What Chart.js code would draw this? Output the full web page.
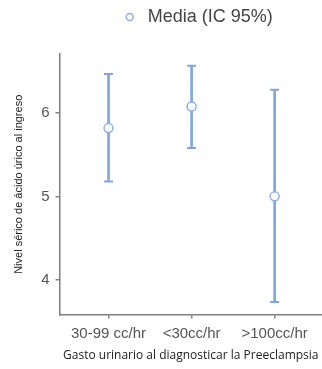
<!DOCTYPE html>
<html lang="es">
<head>
  <meta charset="UTF-8" />
  <title>Ácido úrico por gasto urinario</title>
  <script src="https://cdn.jsdelivr.net/npm/chart.js"></script>
  <style>
    body { margin: 0; background: #fff; }
    #wrap { width: 322px; height: 369px; }
  </style>
</head>
<body>
  <div id="wrap"><canvas id="ciChart"></canvas></div>

  <script>
    // data
    const categories = ['30-99 cc/hr', '<30cc/hr', '>100cc/hr'];
    const means = [5.82, 6.08, 5.0];
    const lower = [5.18, 5.58, 3.73];
    const upper = [6.47, 6.57, 6.28];
    const yTicks = [4, 5, 6];

    const blue = '#7fa6e2';
    const axisGrey = '#7f7f7f';

    const whiskers = categories.map((c, i) => ({ x: i, y: [lower[i], upper[i]] }));
    const caps = [];
    categories.forEach((c, i) => {
      caps.push({ x: i, y: lower[i] });
      caps.push({ x: i, y: upper[i] });
    });
    const meanPts = categories.map((c, i) => ({ x: i, y: means[i] }));

    // extra room under the legend, and nudge it a little to the right
    const legendSpace = {
      id: 'legendSpace',
      beforeInit(chart) {
        const fit = chart.legend.fit;
        chart.legend.fit = function () {
          fit.call(this);
          this.height += 18;
        };
      },
      afterLayout(chart) {
        chart.legend.left += 6;
        chart.legend.right += 6;
      }
    };

    new Chart(document.getElementById('ciChart'), {
      type: 'scatter',
      data: {
        datasets: [
          {
            type: 'bar',
            label: 'ic',
            data: whiskers,
            backgroundColor: blue,
            borderWidth: 0,
            barThickness: 2,
            order: 3
          },
          {
            label: 'caps',
            data: caps,
            pointStyle: 'line',
            radius: 4.5,
            borderColor: blue,
            borderWidth: 2,
            order: 2
          },
          {
            label: 'Media (IC 95%)',
            data: meanPts,
            pointStyle: 'circle',
            radius: 4.5,
            backgroundColor: '#ffffff',
            borderColor: '#8db0e6',
            borderWidth: 1.5,
            order: 1
          }
        ]
      },
      options: {
        responsive: true,
        maintainAspectRatio: false,
        animation: false,
        layout: { autoPadding: false, padding: { top: 0, right: 0, left: 6, bottom: 6 } },
        plugins: {
          tooltip: { enabled: false },
          legend: {
            position: 'top',
            fullSize: false,
            labels: {
              filter: item => item.text === 'Media (IC 95%)',
              usePointStyle: true,
              boxHeight: 5,
              padding: 8,
              color: '#444',
              font: { family: 'Liberation Sans, Arial, sans-serif', size: 18 }
            }
          }
        },
        scales: {
          x: {
            type: 'linear',
            offset: false,
            min: -0.59,
            max: 2.57,
            grid: { drawOnChartArea: false, offset: false, color: axisGrey, tickLength: 4, lineWidth: 1.5 },
            border: { color: axisGrey, width: 1.5 },
            afterBuildTicks: axis => { axis.ticks = [0, 1, 2].map(v => ({ value: v })); },
            ticks: {
              color: '#555',
              padding: 6,
              maxRotation: 0,
              autoSkip: false,
              font: { family: 'Liberation Sans, Arial, sans-serif', size: 15 },
              callback: v => categories[v]
            },
            title: {
              display: true,
              text: 'Gasto urinario al diagnosticar la Preeclampsia',
              color: '#222',
              padding: { top: 0, bottom: 0 },
              font: { family: 'Open Sans, sans-serif', size: 12 }
            }
          },
          y: {
            min: 3.58,
            max: 6.71,
            grid: { drawOnChartArea: false, color: axisGrey, tickLength: 4, lineWidth: 1.5 },
            border: { color: axisGrey, width: 1.5 },
            afterBuildTicks: axis => { axis.ticks = yTicks.map(v => ({ value: v })); },
            ticks: {
              color: '#555',
              padding: 6,
              font: { family: 'Liberation Sans, Arial, sans-serif', size: 15 }
            },
            title: {
              display: true,
              text: 'Nivel sérico de ácido úrico al ingreso',
              color: '#222',
              padding: { top: 6, bottom: 10 },
              font: { family: 'Liberation Sans, Arial, sans-serif', size: 11 }
            }
          }
        }
      },
      plugins: [legendSpace]
    });
  </script>
</body>
</html>
